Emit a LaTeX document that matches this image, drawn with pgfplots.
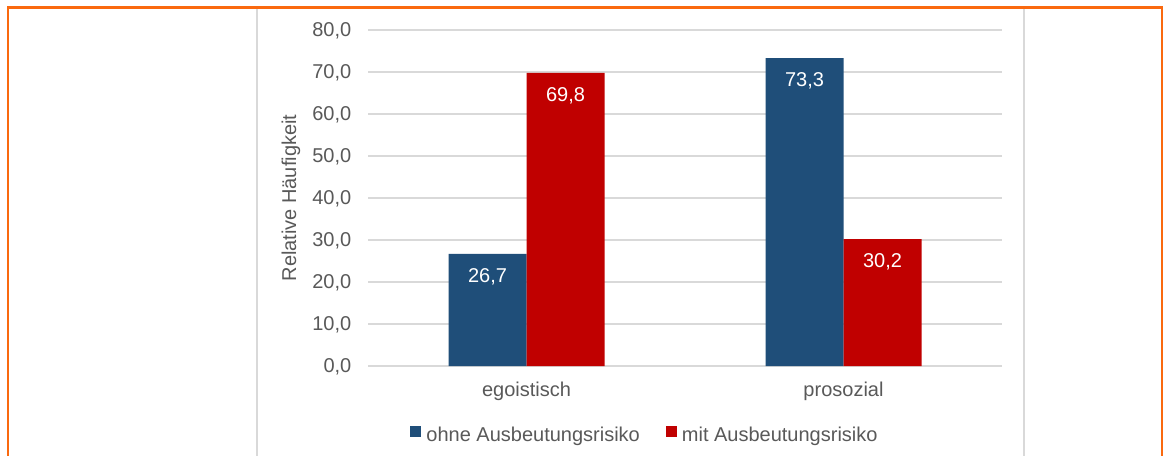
\documentclass[border=0pt]{standalone}
\usepackage{fontspec}
\setmainfont{Liberation Sans}
\usepackage{pgfplots}
\pgfplotsset{compat=1.18}
\definecolor{barblue}{HTML}{1F4E79}
\definecolor{barred}{HTML}{C00000}
\definecolor{txtgray}{HTML}{595959}
\definecolor{gridgray}{HTML}{D9D9D9}
\definecolor{frameorange}{RGB}{250,105,15}
\begin{document}
\begin{tikzpicture}[x=1pt,y=1pt]
\useasboundingbox (0,0) rectangle (585,227.5);
\fill[white] (0,0) rectangle (585,227.5);
\draw[gridgray, line width=0.75pt] (128.5,-1) -- (128.5,224);
\draw[gridgray, line width=0.75pt] (512,-1) -- (512,224);
\draw[frameorange, line width=1.1pt] (4,-1) -- (4,223.75) -- (581,223.75) -- (581,-1);
\begin{axis}[
  at={(184pt,44.5pt)}, anchor=south west,
  scale only axis, width=317pt, height=168pt,
  ybar=0pt, bar width=39pt,
  xmin=-0.5, xmax=1.5, ymin=0, ymax=80,
  xtick={0,1}, xticklabels={egoistisch,prosozial},
  ytick={0,10,...,80},
  ymajorgrids, grid style={gridgray, line width=0.75pt},
  axis line style={draw=none}, major tick length=0pt,
  /pgf/number format/use comma, /pgf/number format/fixed,
  /pgf/number format/fixed zerofill, /pgf/number format/precision=1,
  /pgf/number format/assume math mode=true,
  tick label style={font=\fontsize{10}{12}\selectfont, text=txtgray},
  yticklabel style={anchor=east, inner sep=0pt, xshift=-8.15pt, text depth=0pt},
  xticklabel style={anchor=base, inner sep=0pt, yshift=-15pt},
  ylabel={Relative Häufigkeit},
  ylabel style={at={(axis description cs:-0.1215,0.5)}, anchor=center, font=\fontsize{10}{12}\selectfont, text=txtgray},
  nodes near coords,
  every node near coord/.append style={font=\fontsize{10}{12}\selectfont, text=white, anchor=center, yshift=-10.85pt, text depth=0pt},
  legend image code/.code={\fill[#1] (0pt,-0.5pt) rectangle (5.5pt,5pt);},
  legend style={at={(0.4353,-0.2054)}, anchor=center, draw=none, fill=none,
    legend columns=2, font=\fontsize{10}{12}\selectfont, text=txtgray, inner sep=0pt,
    nodes={inner sep=0pt},
    /tikz/every odd column/.append style={column sep=2.5pt},
    /tikz/every even column/.append style={column sep=13pt}},
]
\addplot[fill=barblue, draw=none] coordinates {(0,26.7) (1,73.3)};
\addlegendentry{ohne Ausbeutungsrisiko}
\addplot[fill=barred, draw=none] coordinates {(0,69.8) (1,30.2)};
\addlegendentry{mit Ausbeutungsrisiko}
\end{axis}
\end{tikzpicture}
\end{document}
